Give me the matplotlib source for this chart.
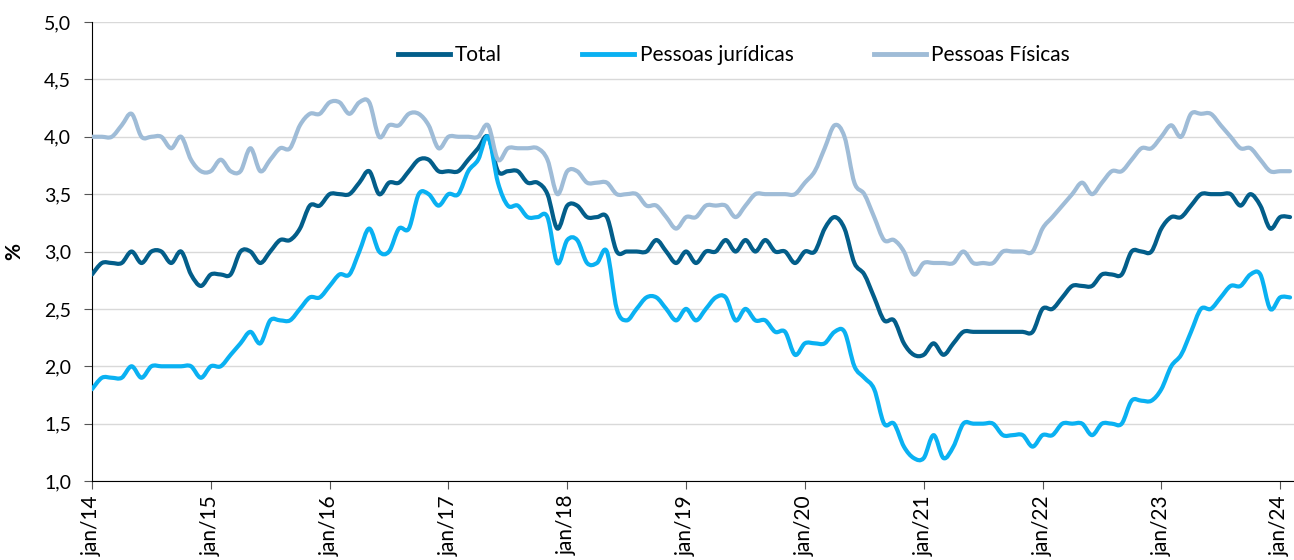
import matplotlib
matplotlib.use('Agg')
import matplotlib.pyplot as plt
import numpy as np
from matplotlib.path import Path
from matplotlib.patches import PathPatch
from matplotlib.lines import Line2D
from matplotlib.ticker import FuncFormatter

plt.rcParams['font.family'] = ['Lato', 'DejaVu Sans']

# taxa mensal, jan/14 a fev/24
total = [2.8, 2.9, 2.9, 2.9, 3.0, 2.9, 3.0, 3.0, 2.9, 3.0, 2.8, 2.7,
         2.8, 2.8, 2.8, 3.0, 3.0, 2.9, 3.0, 3.1, 3.1, 3.2, 3.4, 3.4,
         3.5, 3.5, 3.5, 3.6, 3.7, 3.5, 3.6, 3.6, 3.7, 3.8, 3.8, 3.7,
         3.7, 3.7, 3.8, 3.9, 4.0, 3.7, 3.7, 3.7, 3.6, 3.6, 3.5, 3.2,
         3.4, 3.4, 3.3, 3.3, 3.3, 3.0, 3.0, 3.0, 3.0, 3.1, 3.0, 2.9,
         3.0, 2.9, 3.0, 3.0, 3.1, 3.0, 3.1, 3.0, 3.1, 3.0, 3.0, 2.9,
         3.0, 3.0, 3.2, 3.3, 3.2, 2.9, 2.8, 2.6, 2.4, 2.4, 2.2, 2.1,
         2.1, 2.2, 2.1, 2.2, 2.3, 2.3, 2.3, 2.3, 2.3, 2.3, 2.3, 2.3,
         2.5, 2.5, 2.6, 2.7, 2.7, 2.7, 2.8, 2.8, 2.8, 3.0, 3.0, 3.0,
         3.2, 3.3, 3.3, 3.4, 3.5, 3.5, 3.5, 3.5, 3.4, 3.5, 3.4, 3.2,
         3.3, 3.3]
juridicas = [1.8, 1.9, 1.9, 1.9, 2.0, 1.9, 2.0, 2.0, 2.0, 2.0, 2.0, 1.9,
             2.0, 2.0, 2.1, 2.2, 2.3, 2.2, 2.4, 2.4, 2.4, 2.5, 2.6, 2.6,
             2.7, 2.8, 2.8, 3.0, 3.2, 3.0, 3.0, 3.2, 3.2, 3.5, 3.5, 3.4,
             3.5, 3.5, 3.7, 3.8, 4.0, 3.6, 3.4, 3.4, 3.3, 3.3, 3.3, 2.9,
             3.1, 3.1, 2.9, 2.9, 3.0, 2.5, 2.4, 2.5, 2.6, 2.6, 2.5, 2.4,
             2.5, 2.4, 2.5, 2.6, 2.6, 2.4, 2.5, 2.4, 2.4, 2.3, 2.3, 2.1,
             2.2, 2.2, 2.2, 2.3, 2.3, 2.0, 1.9, 1.8, 1.5, 1.5, 1.3, 1.2,
             1.2, 1.4, 1.2, 1.3, 1.5, 1.5, 1.5, 1.5, 1.4, 1.4, 1.4, 1.3,
             1.4, 1.4, 1.5, 1.5, 1.5, 1.4, 1.5, 1.5, 1.5, 1.7, 1.7, 1.7,
             1.8, 2.0, 2.1, 2.3, 2.5, 2.5, 2.6, 2.7, 2.7, 2.8, 2.8, 2.5,
             2.6, 2.6]
fisicas = [4.0, 4.0, 4.0, 4.1, 4.2, 4.0, 4.0, 4.0, 3.9, 4.0, 3.8, 3.7,
           3.7, 3.8, 3.7, 3.7, 3.9, 3.7, 3.8, 3.9, 3.9, 4.1, 4.2, 4.2,
           4.3, 4.3, 4.2, 4.3, 4.3, 4.0, 4.1, 4.1, 4.2, 4.2, 4.1, 3.9,
           4.0, 4.0, 4.0, 4.0, 4.1, 3.8, 3.9, 3.9, 3.9, 3.9, 3.8, 3.5,
           3.7, 3.7, 3.6, 3.6, 3.6, 3.5, 3.5, 3.5, 3.4, 3.4, 3.3, 3.2,
           3.3, 3.3, 3.4, 3.4, 3.4, 3.3, 3.4, 3.5, 3.5, 3.5, 3.5, 3.5,
           3.6, 3.7, 3.9, 4.1, 4.0, 3.6, 3.5, 3.3, 3.1, 3.1, 3.0, 2.8,
           2.9, 2.9, 2.9, 2.9, 3.0, 2.9, 2.9, 2.9, 3.0, 3.0, 3.0, 3.0,
           3.2, 3.3, 3.4, 3.5, 3.6, 3.5, 3.6, 3.7, 3.7, 3.8, 3.9, 3.9,
           4.0, 4.1, 4.0, 4.2, 4.2, 4.2, 4.1, 4.0, 3.9, 3.9, 3.8, 3.7,
           3.7, 3.7]
anos = ['jan/14', 'jan/15', 'jan/16', 'jan/17', 'jan/18', 'jan/19',
        'jan/20', 'jan/21', 'jan/22', 'jan/23', 'jan/24']

series = [('Total', total, '#035E8A'),
          ('Pessoas jurídicas', juridicas, '#0AB1F2'),
          ('Pessoas Físicas', fisicas, '#9FBCD7')]


def curva_suave(x, y):
    # linha suavizada (bezier tipo catmull-rom) como no excel
    pts = np.column_stack([x, y])
    n = len(pts)
    verts = [pts[0]]
    codes = [Path.MOVETO]
    for i in range(n - 1):
        p0 = pts[max(i - 1, 0)]
        p1 = pts[i]
        p2 = pts[i + 1]
        p3 = pts[min(i + 2, n - 1)]
        c1 = p1 + (p2 - p0) / 6
        c2 = p2 - (p3 - p1) / 6
        verts += [c1, c2, p2]
        codes += [Path.CURVE4] * 3
    return Path(verts, codes)


fig = plt.figure(figsize=(12.94, 5.6), dpi=100)
ax = fig.add_axes([0.0711, 0.141, 0.9289, 0.8197])

meses = np.arange(len(total))
handles = []
for nome, vals, cor in series:
    patch = PathPatch(curva_suave(meses, vals), fill=False, edgecolor=cor,
                      lw=3, capstyle='round', joinstyle='round', zorder=3)
    ax.add_patch(patch)
    handles.append(Line2D([], [], color=cor, lw=3.5, label=nome))

ax.set_xlim(0, 121.4)
ax.set_ylim(1.0, 5.0)
ax.set_yticks(np.arange(1.0, 5.01, 0.5))
ax.yaxis.set_major_formatter(FuncFormatter(lambda v, p: f'{v:.1f}'.replace('.', ',')))
ax.set_xticks(np.arange(0, 121, 12))
ax.set_xticklabels(anos, rotation=90)

ax.grid(axis='y', color='#D9D9D9', lw=1)
ax.set_axisbelow(True)
for s in ['top', 'right']:
    ax.spines[s].set_visible(False)
ax.spines['left'].set_color('black')
ax.spines['bottom'].set_color('black')
ax.tick_params(axis='y', labelsize=14, length=6, color='#555555', pad=9)
ax.tick_params(axis='x', labelsize=15, length=6, color='#555555', pad=4)

ax.set_ylabel('%', fontsize=15, fontweight='bold', labelpad=14)

ax.legend(handles=handles, loc='center', bbox_to_anchor=(0.534, 0.928),
          ncol=3, frameon=False, fontsize=15, handlelength=2.5,
          handletextpad=0.25, columnspacing=3.85)

fig.savefig('out.png', dpi=100)
